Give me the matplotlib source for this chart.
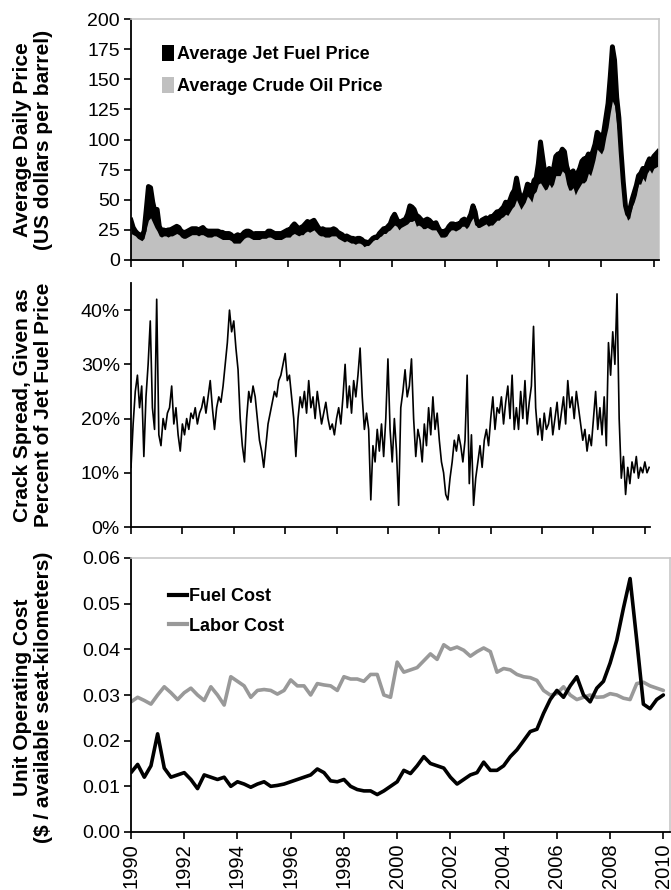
import numpy as np
import matplotlib
matplotlib.use("Agg")
import matplotlib.pyplot as plt
from matplotlib.ticker import FuncFormatter, MultipleLocator
from matplotlib.patches import Patch
from matplotlib.lines import Line2D

plt.rcParams['font.family'] = ['Liberation Sans', 'DejaVu Sans']

# ---------------- data ----------------
# monthly average jet fuel price (US$/bbl), Jan 1990 ... Mar 2010
jet_price = [
    33, 27, 24, 22, 21, 20, 24, 42, 61, 60, 48, 40,      # 1990
    42, 28, 24, 25, 24, 25, 25, 26, 27, 28, 27, 24,      # 1991
    23, 23, 24, 25, 26, 26, 26, 25, 26, 27, 25, 24,      # 1992
    24, 24, 24, 24, 24, 23, 23, 22, 22, 22, 21, 19,      # 1993
    20, 21, 20, 21, 23, 24, 24, 23, 21, 22, 22, 22,      # 1994
    22, 22, 22, 24, 24, 23, 22, 22, 22, 22, 23, 24,      # 1995
    25, 25, 28, 30, 28, 26, 27, 28, 30, 32, 31, 32,      # 1996
    33, 30, 27, 25, 26, 25, 25, 25, 25, 26, 25, 23,      # 1997
    22, 21, 19, 20, 19, 18, 18, 17, 18, 18, 17, 15,      # 1998
    15, 14, 16, 18, 19, 19, 22, 24, 26, 26, 28, 30,      # 1999
    35, 38, 34, 30, 32, 33, 34, 38, 45, 44, 42, 37,      # 2000
    36, 34, 32, 33, 34, 33, 31, 30, 31, 27, 24, 23,      # 2001
    24, 25, 28, 30, 30, 29, 30, 30, 33, 34, 32, 34,      # 2002
    38, 45, 40, 30, 30, 33, 34, 35, 33, 36, 36, 38,      # 2003
    40, 40, 42, 44, 48, 46, 50, 55, 58, 68, 58, 50,      # 2004
    52, 56, 63, 62, 58, 66, 68, 80, 98, 85, 72, 74,      # 2005
    76, 72, 76, 86, 88, 88, 92, 90, 78, 72, 72, 74,      # 2006
    66, 72, 76, 82, 84, 84, 88, 86, 90, 96, 106, 104,    # 2007
    100, 106, 118, 130, 152, 177, 166, 135, 118, 90, 65, 45,  # 2008
    38, 42, 50, 56, 62, 70, 72, 76, 74, 80, 84, 82,      # 2009
    86, 88, 90,                                          # 2010
]
# monthly average crude oil price (US$/bbl)
crude_price = [
    22, 21, 20, 18, 17, 16, 18, 26, 33, 35, 31, 27,
    24, 20, 19, 20, 20, 19, 20, 20, 21, 22, 21, 19,
    18, 18, 19, 20, 21, 21, 21, 20, 21, 21, 20, 19,
    19, 19, 20, 20, 19, 18, 17, 17, 17, 17, 16, 14,
    14, 14, 14, 16, 18, 19, 19, 18, 17, 17, 17, 17,
    18, 18, 18, 19, 19, 18, 17, 17, 17, 17, 18, 19,
    19, 19, 21, 22, 21, 20, 21, 21, 23, 24, 23, 24,
    25, 23, 21, 20, 20, 19, 19, 19, 20, 20, 20, 18,
    17, 16, 15, 16, 15, 14, 14, 13, 14, 14, 13, 11,
    12, 12, 14, 16, 17, 17, 19, 20, 22, 22, 24, 25,
    27, 29, 28, 25, 27, 28, 29, 30, 32, 32, 33, 28,
    29, 28, 26, 26, 27, 26, 25, 25, 25, 22, 19, 19,
    19, 20, 23, 25, 25, 24, 25, 26, 28, 28, 26, 28,
    32, 35, 30, 27, 27, 28, 29, 30, 28, 29, 29, 31,
    33, 33, 35, 36, 38, 37, 40, 43, 45, 50, 46, 42,
    45, 48, 53, 51, 48, 55, 57, 63, 64, 61, 58, 59,
    63, 60, 63, 70, 70, 70, 74, 72, 63, 58, 58, 60,
    54, 58, 61, 64, 64, 66, 72, 70, 76, 83, 92, 90,
    88, 92, 102, 110, 122, 132, 128, 112, 100, 75, 52, 38,
    33, 35, 44, 48, 54, 63, 63, 68, 65, 72, 75, 72,
    76, 77, 78,
]
# crack spread as percent of jet fuel price, monthly
crack_pct = [
    11, 19, 25, 28, 22, 26, 13, 24, 30, 38, 22, 18,      # 1990
    42, 17, 15, 20, 18, 21, 22, 26, 19, 22, 17, 14,      # 1991
    19, 17, 20, 18, 21, 20, 22, 19, 21, 22, 24, 21,      # 1992
    24, 27, 22, 18, 22, 24, 23, 26, 30, 34, 40, 36,      # 1993
    38, 33, 29, 20, 15, 12, 20, 25, 23, 26, 24, 20,      # 1994
    16, 14, 11, 15, 19, 21, 23, 25, 24, 27, 28, 30,      # 1995
    32, 27, 28, 24, 20, 13, 20, 24, 22, 25, 21, 27,      # 1996
    22, 24, 20, 25, 22, 19, 21, 23, 20, 18, 19, 17,      # 1997
    20, 22, 19, 24, 30, 22, 26, 21, 27, 24, 28, 33,      # 1998
    24, 18, 21, 18, 5, 15, 12, 18, 14, 19, 13, 20,       # 1999
    31, 18, 12, 20, 14, 4, 22, 25, 29, 24, 26, 31,       # 2000
    20, 13, 18, 16, 12, 19, 15, 22, 17, 24, 18, 21,      # 2001
    16, 12, 10, 6, 5, 9, 12, 16, 14, 17, 15, 12,         # 2002
    16, 28, 8, 17, 4, 9, 12, 15, 11, 16, 18, 15,         # 2003
    20, 24, 18, 22, 21, 24, 19, 23, 26, 20, 28, 18,      # 2004
    22, 18, 25, 20, 27, 19, 23, 26, 37, 22, 17, 20,      # 2005
    16, 21, 18, 19, 22, 17, 20, 23, 18, 21, 24, 19,      # 2006
    27, 22, 24, 20, 25, 22, 19, 16, 18, 14, 17, 15,      # 2007
    20, 25, 18, 22, 17, 24, 15, 34, 28, 36, 30, 43,      # 2008
    20, 9, 13, 6, 11, 8, 12, 10, 13, 9, 11, 10,          # 2009
    12, 10, 11,                                          # 2010
]
# quarterly unit operating costs ($ / available seat-km), Q1 1990 ... Q1 2010
fuel_cost = [
    0.0130, 0.0148, 0.0120, 0.0145,
    0.0215, 0.0140, 0.0120, 0.0125,
    0.0130, 0.0115, 0.0095, 0.0125,
    0.0120, 0.0115, 0.0120, 0.0100,
    0.0110, 0.0105, 0.0098, 0.0105,
    0.0110, 0.0100, 0.0102, 0.0105,
    0.0110, 0.0115, 0.0120, 0.0125,
    0.0138, 0.0130, 0.0112, 0.0110,
    0.0115, 0.0100, 0.0093, 0.0090,
    0.0090, 0.0082, 0.0090, 0.0100,
    0.0110, 0.0135, 0.0128, 0.0145,
    0.0165, 0.0150, 0.0145, 0.0140,
    0.0120, 0.0105, 0.0115, 0.0125,
    0.0130, 0.0153, 0.0135, 0.0135,
    0.0145, 0.0165, 0.0180, 0.0200,
    0.0220, 0.0225, 0.0260, 0.0290,
    0.0310, 0.0295, 0.0320, 0.0340,
    0.0300, 0.0285, 0.0315, 0.0330,
    0.0370, 0.0420, 0.0490, 0.0555,
    0.0420, 0.0280, 0.0270, 0.0290,
    0.0300,
]
labor_cost = [
    0.0285, 0.0295, 0.0288, 0.0280,
    0.0300, 0.0318, 0.0305, 0.0290,
    0.0305, 0.0315, 0.0300, 0.0288,
    0.0318, 0.0300, 0.0278, 0.0340,
    0.0330, 0.0320, 0.0295, 0.0310,
    0.0312, 0.0310, 0.0302, 0.0310,
    0.0333, 0.0320, 0.0320, 0.0300,
    0.0325, 0.0322, 0.0320, 0.0310,
    0.0340, 0.0335, 0.0335, 0.0330,
    0.0345, 0.0345, 0.0300, 0.0295,
    0.0372, 0.0350, 0.0355, 0.0360,
    0.0375, 0.0390, 0.0378, 0.0410,
    0.0400, 0.0405, 0.0398, 0.0385,
    0.0395, 0.0403, 0.0395, 0.0350,
    0.0358, 0.0355, 0.0345, 0.0340,
    0.0338, 0.0332, 0.0310, 0.0300,
    0.0303, 0.0318, 0.0300, 0.0290,
    0.0295, 0.0300, 0.0295, 0.0296,
    0.0303, 0.0300, 0.0293, 0.0290,
    0.0325, 0.0328, 0.0320, 0.0315,
    0.0310,
]
year_ticks = [1990, 1992, 1994, 1996, 1998, 2000, 2002, 2004, 2006, 2008, 2010]

t_month = 1990 + np.arange(len(jet_price)) / 12.0
t_crack = 1990 + np.arange(len(crack_pct)) / 12.0
t_quarter = 1990 + np.arange(len(fuel_cost)) * 0.25

# ---------------- figure ----------------
W, H = 671, 890
fig = plt.figure(figsize=(W / 100, H / 100), dpi=100)

def rect(l, r, t, b):
    return [l / W, 1 - b / H, (r - l) / W, (b - t) / H]

ax1 = fig.add_axes(rect(131, 659, 19, 260))
ax2 = fig.add_axes(rect(131, 650, 283, 527))
ax3 = fig.add_axes(rect(131, 670, 558, 832))

frame_gray = '#c8c8c8'
tick_fs = 14
lab_fs = 15

for ax in (ax1, ax2, ax3):
    ax.set_xticks(year_ticks)
    ax.tick_params(axis='both', direction='out', length=5, width=1.2,
                   labelsize=tick_fs, colors='black', pad=3)
    ax.spines['left'].set_linewidth(1.3)
    ax.spines['bottom'].set_linewidth(1.3)

# --- top panel ---
ax1.fill_between(t_month, 0, jet_price, color='black', lw=0)
ax1.fill_between(t_month, 0, crude_price, color='#c0c0c0', lw=0)
ax1.plot(t_month, jet_price, color='black', lw=3.5)
ax1.set_xlim(1990, 2010.2)
ax1.set_ylim(0, 200)
ax1.yaxis.set_major_locator(MultipleLocator(25))
ax1.tick_params(axis='x', labelbottom=False)
for s in ('top', 'right'):
    ax1.spines[s].set_color(frame_gray)
    ax1.spines[s].set_linewidth(1.2)
h1 = [Patch(facecolor='black', edgecolor='none'),
      Patch(facecolor='#c0c0c0', edgecolor='none')]
ax1.legend(h1, ['Average Jet Fuel Price', 'Average Crude Oil Price'],
           loc='upper left', bbox_to_anchor=(0.027, 0.96), frameon=False,
           handlelength=0.7, handleheight=1.0, handletextpad=0.15,
           labelspacing=0.75, prop={'weight': 'bold', 'size': 13})

# --- middle panel ---
ax2.plot(t_crack, np.array(crack_pct) / 100.0, color='black', lw=1.2)
ax2.set_xlim(1990, 2010.2)
ax2.set_ylim(0, 0.45)
ax2.set_yticks([0, 0.1, 0.2, 0.3, 0.4])
ax2.yaxis.set_major_formatter(FuncFormatter(lambda v, p: f"{v*100:.0f}%"))
ax2.tick_params(axis='x', labelbottom=False)
ax2.spines['top'].set_visible(False)
ax2.spines['right'].set_visible(False)

# --- bottom panel ---
ax3.plot(t_quarter, labor_cost, color='#999999', lw=2.6, solid_capstyle='round')
ax3.plot(t_quarter, fuel_cost, color='black', lw=2.6, solid_capstyle='round')
ax3.set_xlim(1990, 2010.25)
ax3.set_ylim(0, 0.06)
ax3.yaxis.set_major_locator(MultipleLocator(0.01))
ax3.yaxis.set_major_formatter(FuncFormatter(lambda v, p: f"{v:.2f}"))
ax3.tick_params(axis='x', labelrotation=90, labelsize=14.5)
for s in ('top', 'right'):
    ax3.spines[s].set_color(frame_gray)
    ax3.spines[s].set_linewidth(1.2)
h3 = [Line2D([0], [0], color='black', lw=3),
      Line2D([0], [0], color='#999999', lw=3)]
ax3.legend(h3, ['Fuel Cost', 'Labor Cost'], loc='upper left',
           bbox_to_anchor=(0.04, 0.95), frameon=False, handlelength=1.0,
           handletextpad=0.1, labelspacing=0.7,
           prop={'weight': 'bold', 'size': 13})

# --- y labels ---
fig.text(33 / W, 1 - 140 / H, 'Average Daily Price\n(US dollars per barrel)',
         rotation=90, ha='center', va='center', fontsize=lab_fs,
         fontweight='bold', linespacing=1.1)
fig.text(33 / W, 1 - 405 / H, 'Crack Spread, Given as\nPercent of Jet Fuel Price',
         rotation=90, ha='center', va='center', fontsize=lab_fs,
         fontweight='bold', linespacing=1.1)
fig.text(33 / W, 1 - 697 / H, 'Unit Operating Cost\n($ / available seat-kilometers)',
         rotation=90, ha='center', va='center', fontsize=lab_fs,
         fontweight='bold', linespacing=1.1)

fig.savefig('out.png', dpi=100)
